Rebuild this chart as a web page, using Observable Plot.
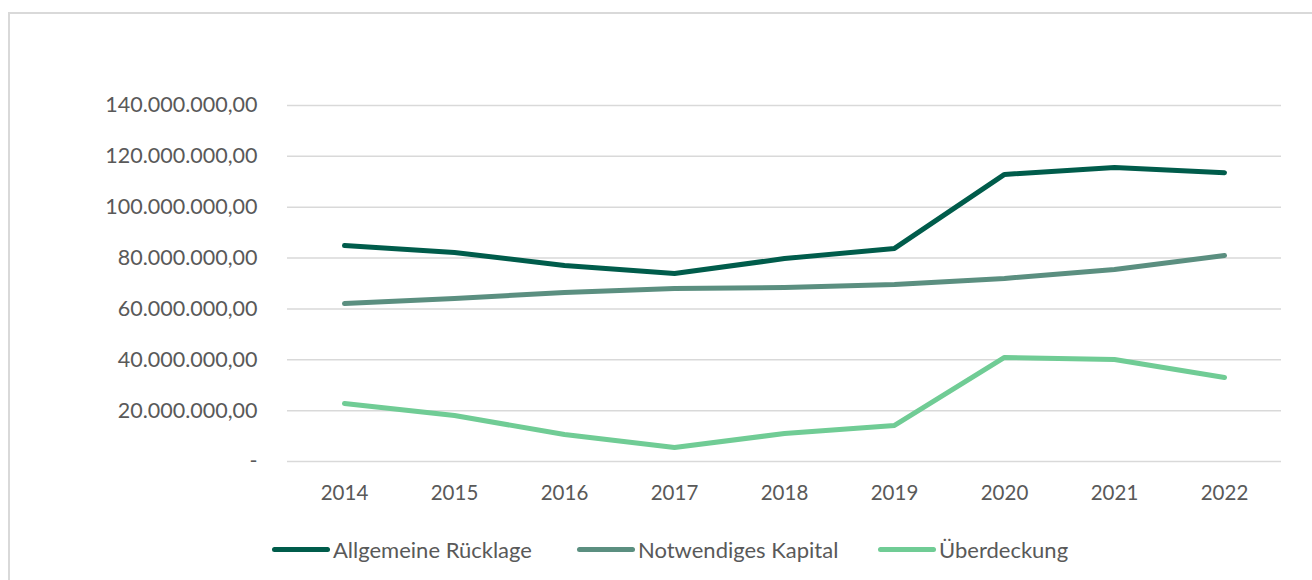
<!DOCTYPE html>
<html>
<head>
<meta charset="utf-8">
<script src="https://cdn.jsdelivr.net/npm/d3@7"></script>
<script src="https://cdn.jsdelivr.net/npm/@observablehq/plot@0.6"></script>
<style>
  html, body { margin: 0; padding: 0; background: #fff; }
  body { width: 1312px; height: 580px; position: relative; overflow: hidden; font-family: Lato, "Open Sans", sans-serif; }
  #frame { position: absolute; left: 8px; top: 12px; width: 1400px; height: 700px; border-left: 2px solid #d9d9d9; border-top: 2px solid #d9d9d9; box-sizing: border-box; }
  #chart { position: absolute; left: 0; top: 0; }
  #legend { position: absolute; left: 0; top: 537px; width: 1312px; height: 24px; }
  .item { position: absolute; top: 0; height: 24px; display: flex; align-items: center; color: #595959; font-size: 22px; white-space: nowrap; }
  .sw { display: inline-block; width: 58px; height: 5px; border-radius: 3px; margin-right: 3px; }
</style>
</head>
<body>
<div id="frame"></div>
<div id="chart"></div>
<div id="legend"></div>
<script>
const years = ["2014","2015","2016","2017","2018","2019","2020","2021","2022"];
const seriesNames = ["Allgemeine Rücklage", "Notwendiges Kapital", "Überdeckung"];
const allgemeineRuecklage = [84.9e6, 82.2e6, 77.1e6, 73.9e6, 79.8e6, 83.8e6, 112.9e6, 115.6e6, 113.6e6];
const notwendigesKapital = [62.1e6, 64.1e6, 66.5e6, 68.0e6, 68.4e6, 69.6e6, 72.0e6, 75.5e6, 81.0e6];
const ueberdeckung = [22.8e6, 18.1e6, 10.6e6, 5.5e6, 11.0e6, 14.2e6, 40.9e6, 40.1e6, 33.0e6];
const yTicks = [0, 20e6, 40e6, 60e6, 80e6, 100e6, 120e6, 140e6];
const yTickLabels = ["-", "20.000.000,00", "40.000.000,00", "60.000.000,00", "80.000.000,00", "100.000.000,00", "120.000.000,00", "140.000.000,00"];
const colors = ["#005c4b", "#5b8f80", "#70cc95"];

const seriesValues = [allgemeineRuecklage, notwendigesKapital, ueberdeckung];
const data = [];
seriesNames.forEach((s, i) => years.forEach((y, j) => data.push({series: s, year: y, value: seriesValues[i][j]})));

const plot = Plot.plot({
  width: 1312,
  height: 520,
  marginLeft: 287,
  marginRight: 31,
  marginTop: 105,
  marginBottom: 59,
  style: { fontFamily: "Lato, 'Open Sans', sans-serif", fontSize: "20px", color: "#595959", background: "transparent" },
  x: { type: "point", domain: years, padding: 0.48, label: null },
  y: { domain: [0, 140e6], label: null },
  color: { domain: seriesNames, range: colors },
  marks: [
    Plot.ruleY(yTicks, { stroke: "#d9d9d9", strokeWidth: 1.5 }),
    Plot.axisY({ ticks: yTicks, tickSize: 0, tickPadding: 30, tickFormat: d => yTickLabels[yTicks.indexOf(d)], fill: "#595959", fontSize: 21.5, label: null }),
    Plot.axisX({ tickSize: 0, tickPadding: 24, fill: "#595959", fontSize: 20.5, label: null }),
    Plot.line(data, { x: "year", y: "value", z: "series", stroke: "series", strokeWidth: 5, strokeLinecap: "round", strokeLinejoin: "round" })
  ]
});
document.getElementById("chart").appendChild(plot);

const legendX = [272, 577, 878];
const legend = document.getElementById("legend");
seriesNames.forEach((s, i) => {
  const it = document.createElement("div");
  it.className = "item";
  it.style.left = legendX[i] + "px";
  const sw = document.createElement("span");
  sw.className = "sw";
  sw.style.background = colors[i];
  it.appendChild(sw);
  it.appendChild(document.createTextNode(s));
  legend.appendChild(it);
});
</script>
</body>
</html>
